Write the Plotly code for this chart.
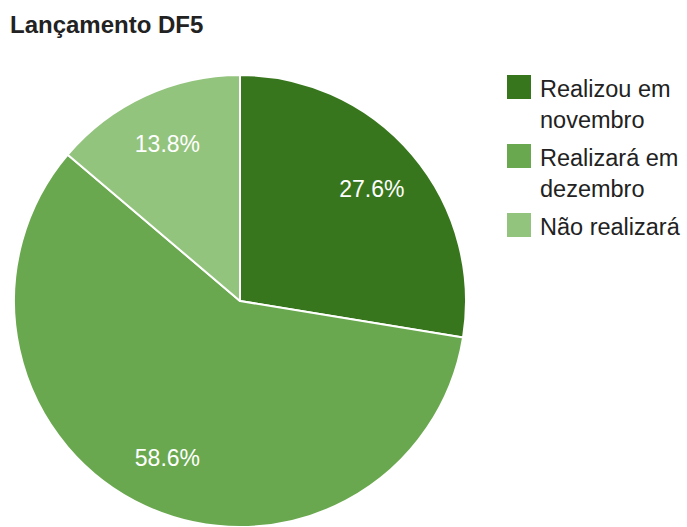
import plotly.graph_objects as go

W, H = 687, 527

labels = ["Realizou em<br>novembro", "Realizará em<br>dezembro", "Não realizará"]
counts = [8, 17, 4]
colors = ["#38761d", "#6aa84f", "#93c47d"]

FONT = "Liberation Sans, Arial, sans-serif"


def px_x(v):
    return v / W


def px_y(v):
    return 1 - v / H


def build_pie():
    domain = dict(x=[px_x(14), px_x(466)], y=[px_y(527), px_y(75)])
    fig = go.Figure()
    # the coloured slices
    fig.add_pie(
        labels=labels,
        values=counts,
        sort=False,
        direction="clockwise",
        rotation=0,
        marker=dict(colors=colors, line=dict(color="white", width=2)),
        textinfo="none",
        domain=domain,
        showlegend=False,
        hoverinfo="label+value+percent",
    )
    # transparent ring on top, only used to push the percent labels outwards
    fig.add_pie(
        labels=labels,
        values=counts,
        sort=False,
        direction="clockwise",
        rotation=0,
        hole=0.53,
        marker=dict(colors=["rgba(0,0,0,0)"] * len(counts), line=dict(width=0)),
        texttemplate="%{percent:.1%}",
        textposition="inside",
        insidetextorientation="horizontal",
        textfont=dict(family=FONT, size=23, color="white"),
        domain=domain,
        showlegend=False,
        hoverinfo="skip",
    )

    # legend drawn by hand so the swatches can match the reference size
    top = 75
    for lab, col in zip(labels, colors):
        fig.add_shape(
            type="rect", xref="paper", yref="paper",
            x0=px_x(507), x1=px_x(531), y0=px_y(top), y1=px_y(top + 24),
            fillcolor=col, line=dict(width=0),
        )
        fig.add_annotation(
            text=lab, xref="paper", yref="paper",
            x=px_x(538), y=px_y(top - 1), xanchor="left", yanchor="top",
            align="left", showarrow=False,
            font=dict(family=FONT, size=23.5, color="#222222"),
        )
        top += 30 * (lab.count("<br>") + 1) + 9

    fig.update_layout(
        title=dict(
            text="<b>Lançamento DF5</b>",
            x=px_x(10), xanchor="left",
            y=px_y(25), yanchor="middle",
            font=dict(family=FONT, size=24, color="#222222"),
        ),
        width=W,
        height=H,
        margin=dict(l=0, r=0, t=0, b=0),
        paper_bgcolor="white",
        plot_bgcolor="white",
    )
    return fig


fig = build_pie()
fig.write_html(
    "out.html",
    config={"displayModeBar": False},
    post_script="document.body.style.margin = '0px';",
)
